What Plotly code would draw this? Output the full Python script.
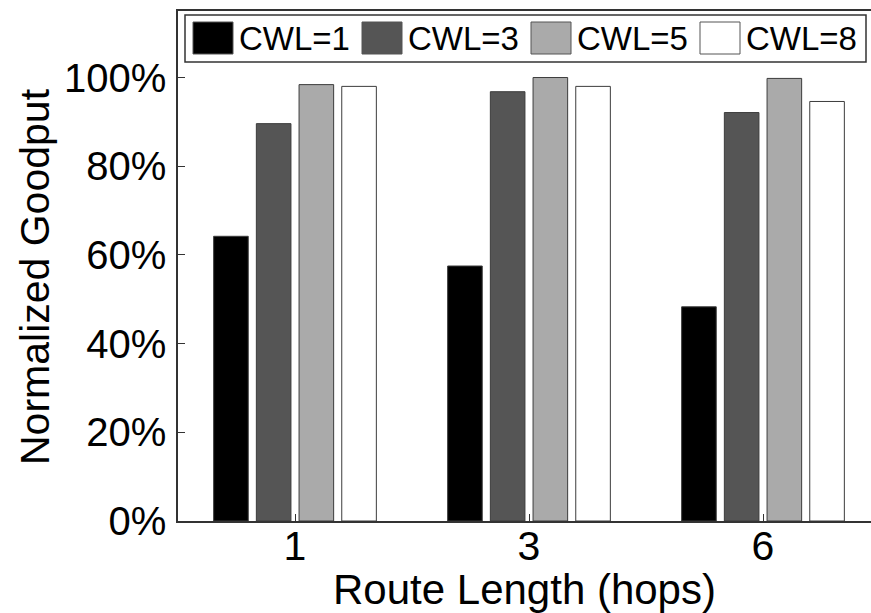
import plotly.graph_objects as go

# Route lengths (hops) on the x axis
routes = ["1", "3", "6"]

# Normalized goodput (%) for each contention window limit
series_names = ["CWL=1", "CWL=3", "CWL=5", "CWL=8"]
cwl1 = [64.2, 57.5, 48.3]
cwl3 = [89.6, 96.8, 92.1]
cwl5 = [98.4, 100.0, 99.8]
cwl8 = [98.0, 98.0, 94.6]
series_values = [cwl1, cwl3, cwl5, cwl8]

# y tick positions and their labels
y_ticks = [0, 20, 40, 60, 80, 100]
y_tick_labels = ["0%", "20%", "40%", "60%", "80%", "100%"]

fill_colors = ["#000000", "#555555", "#aaaaaa", "#ffffff"]
edge_color = "#3c3c3c"
font_family = "Liberation Sans, Arial, Helvetica, sans-serif"

W, H = 871, 613
M_L, M_R, M_T, M_B = 178, 0, 11, 92
plot_w = W - M_L - M_R
plot_h = H - M_T - M_B

fig = go.Figure()
for name, vals, col in zip(series_names, series_values, fill_colors):
    fig.add_trace(go.Bar(
        x=routes, y=vals, name=name,
        marker=dict(color=col, line=dict(color=edge_color, width=1)),
        showlegend=False,
    ))

# Helpers converting pixel positions into paper coordinates
def px_x(px):
    return (px - M_L) / plot_w

def px_y(py):
    return (H - M_B - py) / plot_h

# Framed legend across the top of the axes
shapes = [dict(type="rect", xref="paper", yref="paper",
               x0=px_x(185), x1=px_x(866), y0=px_y(62), y1=px_y(15),
               line=dict(color="#333333", width=1.5), fillcolor="white", layer="above")]
annotations = []
entry_pitch = 169
for i, (name, col) in enumerate(zip(series_names, fill_colors)):
    sx = 193 + i * entry_pitch
    shapes.append(dict(type="rect", xref="paper", yref="paper",
                       x0=px_x(sx), x1=px_x(sx + 40), y0=px_y(54), y1=px_y(22),
                       line=dict(color="#555555", width=1), fillcolor=col, layer="above"))
    annotations.append(dict(xref="paper", yref="paper", x=px_x(sx + 44), y=px_y(38.5),
                            xanchor="left", yanchor="middle", showarrow=False,
                            text=name, font=dict(family=font_family, size=33, color="black")))

# y axis title, rotated
annotations.append(dict(xref="paper", yref="paper", x=px_x(10), y=px_y(277),
                        xanchor="left", yanchor="middle", textangle=-90, showarrow=False,
                        text="Normalized Goodput",
                        font=dict(family=font_family, size=41, color="black")))

fig.update_layout(
    width=W, height=H,
    margin=dict(l=M_L, r=M_R, t=M_T, b=M_B, pad=0),
    paper_bgcolor="white", plot_bgcolor="white",
    barmode="group", bargap=0.27, bargroupgap=0.19,
    font=dict(family=font_family, color="black"),
    shapes=shapes, annotations=annotations,
    showlegend=False,
)

fig.update_xaxes(
    type="category", range=[-0.5, -0.5 + plot_w / 234.0],
    showline=True, linecolor="#333333", linewidth=1.5, mirror=True,
    ticks="inside", ticklen=7, tickwidth=1, tickcolor="#333333",
    showgrid=False, zeroline=False, ticklabelstandoff=-12,
    tickfont=dict(size=41, family=font_family, color="black"),
    title=dict(text="Route Length (hops)", standoff=16,
               font=dict(size=42, family=font_family, color="black")),
)
fig.update_yaxes(
    range=[0, 115], tickmode="array", tickvals=y_ticks, ticktext=y_tick_labels,
    showline=True, linecolor="#333333", linewidth=1.5,
    ticks="inside", ticklen=7, tickwidth=1, tickcolor="#333333",
    showgrid=False, zeroline=False, ticklabelstandoff=2,
    tickfont=dict(size=40, family=font_family, color="black"),
)

fig.write_html("out.html")
